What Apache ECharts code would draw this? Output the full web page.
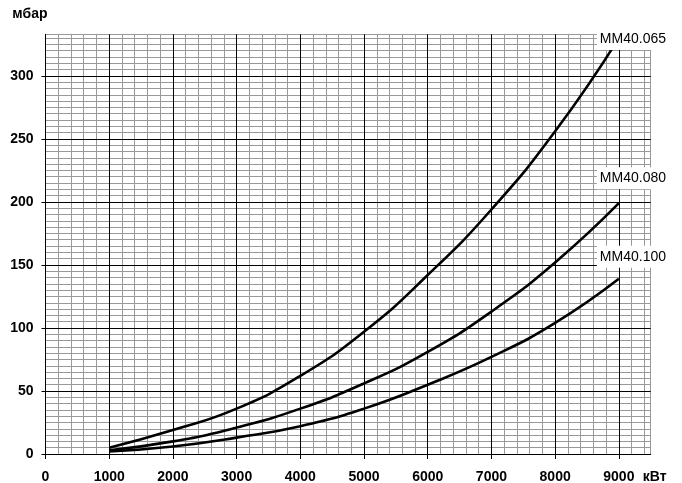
<!DOCTYPE html>
<html>
<head>
<meta charset="utf-8">
<script src="https://cdn.jsdelivr.net/npm/echarts@6/dist/echarts.min.js"></script>
<style>
  html, body { margin: 0; padding: 0; background: #fff; }
  #chart { width: 682px; height: 483px; }
</style>
</head>
<body>
<div id="chart"></div>
<script>
// power, kW
const power = [1000, 2000, 3000, 4000, 5000, 6000, 7000, 8000, 9000];
// pressure drop, mbar
const mm40_065 = [5, 19, 36, 62, 97, 142, 194, 256, 330];
const mm40_080 = [3, 10, 21, 36, 56, 81, 113, 152, 199];
const mm40_100 = [2, 6, 13, 22, 36, 55, 77, 104, 139];
const seriesNames = ['MM40.065', 'MM40.080', 'MM40.100'];
const xTicks = [0, 1000, 2000, 3000, 4000, 5000, 6000, 7000, 8000, 9000];
const yTicks = [0, 50, 100, 150, 200, 250, 300];

const font = 'Arial, "Liberation Sans", sans-serif';
const chart = echarts.init(document.getElementById('chart'));

function pairs(vals) {
    return power.map((p, i) => [p, vals[i]]);
}

function curve(name, vals, dy) {
    return {
        name: name,
        type: 'line',
        xAxisIndex: 1,
        yAxisIndex: 1,
        data: pairs(vals),
        smooth: 0.5,
        symbol: 'none',
        z: 5,
        lineStyle: { color: '#000', width: 2.6 },
        endLabel: {
            show: true,
            formatter: '{a}',
            fontFamily: font,
            fontSize: 14,
            color: '#000',
            backgroundColor: '#fff',
            padding: [4, 3, 4, 3],
            offset: [-30, dy]
        }
    };
}

const minorLine = { show: true, lineStyle: { color: '#999', width: 1 } };
const majorLine = { show: true, lineStyle: { color: '#000', width: 1 } };
const plain = v => String(v);

chart.setOption({
    animation: false,
    grid: {
        left: 45.5, right: 31.3, top: 34.3, bottom: 29,
        containLabel: false, outerBoundsMode: 'none'
    },
    xAxis: [
        {
            type: 'value', position: 'bottom', min: 0, max: 9500, interval: 200,
            axisLine: { show: false }, axisTick: { show: false }, axisLabel: { show: false },
            splitLine: minorLine, z: 1
        },
        {
            type: 'value', position: 'bottom', min: 0, max: 9500, interval: 1000,
            axisLine: { show: true, lineStyle: { color: '#000' } },
            axisTick: { show: true, length: 5, customValues: xTicks, lineStyle: { color: '#000' } },
            axisLabel: {
                customValues: xTicks, margin: 16, formatter: plain,
                fontFamily: font, fontSize: 14, fontWeight: 'bold', color: '#000'
            },
            splitLine: majorLine,
            name: 'кВт', nameLocation: 'end', nameGap: -8,
            nameTextStyle: {
                fontFamily: font, fontSize: 14, fontWeight: 'bold', color: '#000',
                align: 'left', verticalAlign: 'top', lineHeight: 14, padding: [16, 0, 0, 0]
            },
            z: 2
        }
    ],
    yAxis: [
        {
            type: 'value', position: 'left', min: 0, max: 333, interval: 5,
            axisLine: { show: false }, axisTick: { show: false }, axisLabel: { show: false },
            splitLine: minorLine, z: 1
        },
        {
            type: 'value', position: 'left', min: 0, max: 333, interval: 50,
            axisLine: { show: true, lineStyle: { color: '#000' } },
            axisTick: { show: true, length: 4, customValues: yTicks, lineStyle: { color: '#000' } },
            axisLabel: {
                customValues: yTicks, margin: 12, formatter: plain,
                fontFamily: font, fontSize: 14, fontWeight: 'bold', color: '#000'
            },
            splitLine: majorLine,
            name: 'мбар', nameLocation: 'end', nameGap: 20,
            nameTextStyle: {
                fontFamily: font, fontSize: 14, fontWeight: 'bold', color: '#000',
                align: 'right', verticalAlign: 'middle', padding: [0, -2, 0, 0]
            },
            z: 2
        }
    ],
    series: [
        curve(seriesNames[0], mm40_065, 1),
        curve(seriesNames[1], mm40_080, -25),
        curve(seriesNames[2], mm40_100, -22)
    ]
});
</script>
</body>
</html>
